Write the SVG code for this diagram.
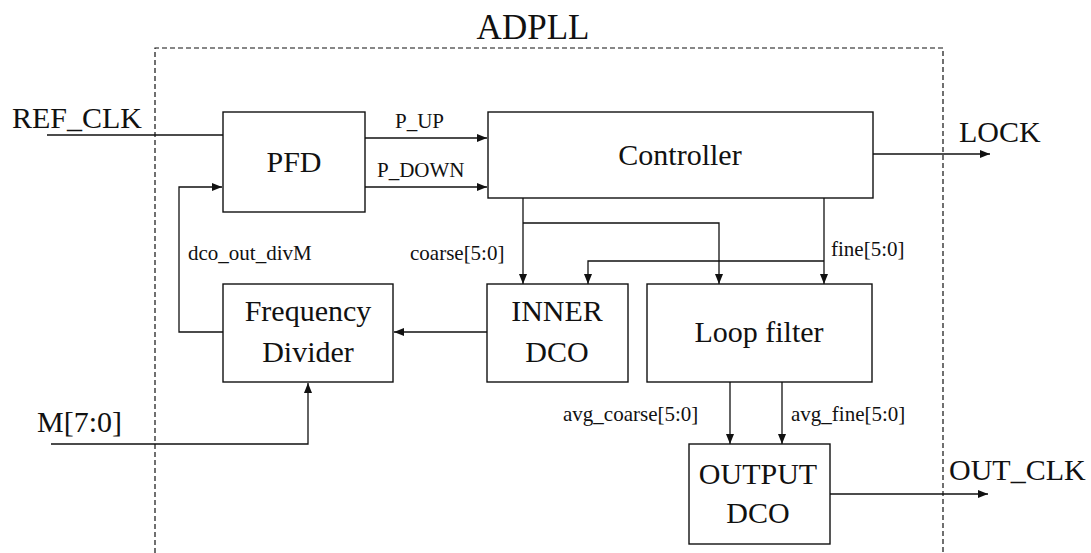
<svg xmlns="http://www.w3.org/2000/svg" width="1091" height="553" viewBox="0 0 1091 553">
<style>
.box{fill:#fff;stroke:#111;stroke-width:1.4}
.w{fill:none;stroke:#111;stroke-width:1.3}
.c{text-anchor:middle}
</style>
<defs>
<marker id="ah" viewBox="0 0 10 8" refX="10" refY="4" markerWidth="10" markerHeight="8" markerUnits="userSpaceOnUse" orient="auto">
<path d="M0,0 L10,4 L0,8 Z" fill="#111"/>
</marker>
</defs>
<rect width="1091" height="553" fill="#fff"/>
<g id="adpll">
<path d="M155,553 L155,48 L943,48 L943,553" fill="none" stroke="#111" stroke-width="1.2" stroke-dasharray="5,3"/>
<text font-family="Liberation Serif" font-size="35" fill="#111" text-anchor="middle" x="533" y="39">ADPLL</text>
</g>
<g id="connectors">
<path class="w" d="M47,135 L223,135"/>
<path class="w" d="M365,138 L487,138" marker-end="url(#ah)"/>
<path class="w" d="M365,187 L487,187" marker-end="url(#ah)"/>
<path class="w" d="M873,154 L990,154" marker-end="url(#ah)"/>
<path class="w" d="M223,332 L179,332 L179,187 L222,187" marker-end="url(#ah)"/>
<path class="w" d="M487,332 L394,332" marker-end="url(#ah)"/>
<path class="w" d="M51,444 L308,444 L308,383" marker-end="url(#ah)"/>
<path class="w" d="M523,198 L523,284" marker-end="url(#ah)"/>
<path class="w" d="M523,223 L719,223 L719,284" marker-end="url(#ah)"/>
<path class="w" d="M824,198 L824,284" marker-end="url(#ah)"/>
<path class="w" d="M824,261 L588,261 L588,284" marker-end="url(#ah)"/>
<path class="w" d="M730,382 L730,444" marker-end="url(#ah)"/>
<path class="w" d="M782,382 L782,444" marker-end="url(#ah)"/>
<path class="w" d="M830,494 L988,494" marker-end="url(#ah)"/>
</g>
<g id="labels" fill="#111">
<text font-family="Liberation Serif" font-size="30" x="12" y="128">REF_CLK</text>
<text font-family="Liberation Serif" font-size="21" x="395" y="128">P_UP</text>
<text font-family="Liberation Serif" font-size="21" x="377" y="177">P_DOWN</text>
<text font-family="Liberation Serif" font-size="30" x="959" y="142">LOCK</text>
<text font-family="Liberation Serif" font-size="21" x="188" y="260">dco_out_divM</text>
<text font-family="Liberation Serif" font-size="21" x="410" y="260">coarse[5:0]</text>
<text font-family="Liberation Serif" font-size="21" x="831" y="256">fine[5:0]</text>
<text font-family="Liberation Serif" font-size="30" x="37" y="432">M[7:0]</text>
<text font-family="Liberation Serif" font-size="21" x="563" y="421">avg_coarse[5:0]</text>
<text font-family="Liberation Serif" font-size="21" x="791" y="421">avg_fine[5:0]</text>
<text font-family="Liberation Serif" font-size="30" x="949" y="480">OUT_CLK</text>
</g>
<g id="pfd">
<rect class="box" x="223" y="112" width="142" height="100"/>
<text font-family="Liberation Serif" font-size="30" fill="#111" class="c" x="294" y="172">PFD</text>
</g>
<g id="controller">
<rect class="box" x="488" y="112" width="385" height="86"/>
<text font-family="Liberation Serif" font-size="30" fill="#111" class="c" x="680" y="165">Controller</text>
</g>
<g id="freqdiv">
<rect class="box" x="223" y="284" width="170" height="98"/>
<text font-family="Liberation Serif" font-size="30" fill="#111" class="c" x="308" y="321">Frequency</text>
<text font-family="Liberation Serif" font-size="30" fill="#111" class="c" x="308" y="362">Divider</text>
</g>
<g id="innerdco">
<rect class="box" x="487" y="284" width="141" height="98"/>
<text font-family="Liberation Serif" font-size="30" fill="#111" class="c" x="557" y="321">INNER</text>
<text font-family="Liberation Serif" font-size="30" fill="#111" class="c" x="557" y="362">DCO</text>
</g>
<g id="loopfilter">
<rect class="box" x="647" y="284" width="225" height="98"/>
<text font-family="Liberation Serif" font-size="30" fill="#111" class="c" x="759" y="342">Loop filter</text>
</g>
<g id="outputdco">
<rect class="box" x="689" y="444" width="141" height="100"/>
<text font-family="Liberation Serif" font-size="30" fill="#111" class="c" x="758" y="484">OUTPUT</text>
<text font-family="Liberation Serif" font-size="30" fill="#111" class="c" x="758" y="523">DCO</text>
</g>
</svg>
